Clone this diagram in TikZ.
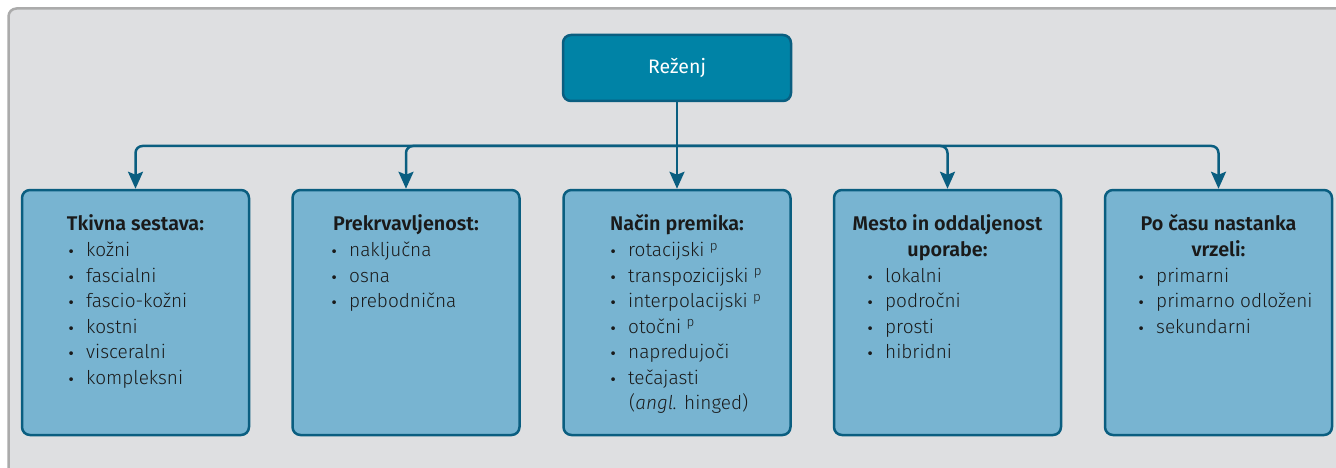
\documentclass[tikz,border=0pt]{standalone}
\usepackage{fontspec}
\setmainfont{Fira Sans Light}[BoldFont={Fira Sans SemiBold},ItalicFont={Fira Sans Light Italic}]
\newfontfamily\regfont{Fira Sans}
\newfontfamily\bulfont{DejaVu Sans}
\usetikzlibrary{arrows.meta}
\definecolor{bgc}{HTML}{DEDFE1}
\definecolor{framec}{HTML}{ABABAB}
\definecolor{topc}{HTML}{0083A6}
\definecolor{boxc}{HTML}{78B4D1}
\definecolor{linec}{HTML}{0A5E80}
\definecolor{txtc}{HTML}{1A1A1A}
\begin{document}
\begin{tikzpicture}[x=1pt,y=-1pt,
  topbox/.style={draw=linec,fill=topc,line width=2.5pt,rounded corners=8pt,minimum width=228pt,minimum height=66pt,inner sep=0pt,text=white,font=\regfont\fontsize{19.5}{22}\selectfont},
  catbox/.style={draw=linec,fill=boxc,line width=2.5pt,rounded corners=8pt,minimum width=227pt,minimum height=245pt,inner sep=0pt},
  ttl/.style={anchor=base,inner sep=0pt,text=txtc,font=\fontsize{19.8}{23}\selectfont\bfseries},
  itm/.style={anchor=base west,inner sep=0pt,text=txtc,font=\fontsize{19}{23}\selectfont},
  conn/.style={draw=linec,line width=2.5pt,rounded corners=7pt,-{Stealth[length=17pt,width=15pt,inset=3pt]}}
]
\useasboundingbox (0,0) rectangle (1336,468);
\draw[framec,fill=bgc,line width=2.5pt,rounded corners=8pt] (8.5,8.5) rectangle (1360,490);

\node[topbox] (top) at (677,68) {Reženj};
\node[catbox] (b1) at (135.5,312.5) {};
\node[catbox] (b2) at (406,312.5) {};
\node[catbox] (b3) at (677,312.5) {};
\node[catbox] (b4) at (947.5,312.5) {};
\node[catbox] (b5) at (1218.5,312.5) {};

\coordinate (bus) at (677,146);
\draw[linec,line width=2.5pt] (top.south) -- (bus);
\foreach \b in {b1,b2,b3,b4,b5} \draw[conn] (bus) -| (\b.north);

\newcommand{\bl}{\llap{\makebox[30pt][c]{\bulfont\fontsize{13}{13}\selectfont •}}}
% titles
\node[ttl] (t1) at (135.5,230.7) {Tkivna sestava:};
\node[ttl] (t2) at (406,230.7) {Prekrvavljenost:};
\node[ttl] (t3) at (677,230.7) {Način premika:};
\node[ttl] (t4a) at (947.5,230.7) {Mesto in oddaljenost};
\node[ttl] (t4b) at (947.5,256.2) {uporabe:};
\node[ttl] (t5a) at (1218.5,230.7) {Po času nastanka};
\node[ttl] (t5b) at (1218.5,256.2) {vrzeli:};
% items
\foreach \t [count=\i from 0] in {kožni,fascialni,fascio-kožni,kostni,visceralni,kompleksni}
  \node[itm] (i1-\i) at (86,256.7+25.5*\i) {\bl\t};
\foreach \t [count=\i from 0] in {naključna,osna,prebodnična}
  \node[itm] (i2-\i) at (349,256.7+25.5*\i) {\bl\t};
\foreach \t [count=\i from 0] in {rotacijski \textsuperscript{p},transpozicijski \textsuperscript{p},interpolacijski \textsuperscript{p},otočni \textsuperscript{p},napredujoči,tečajasti}
  \node[itm] (i3-\i) at (628,256.7+25.5*\i) {\bl\t};
\node[itm] (i3-6) at (629,409.7) {(\textit{angl.} hinged)};
\foreach \t [count=\i from 0] in {lokalni,področni,prosti,hibridni}
  \node[itm] (i4-\i) at (885,282.2+25.5*\i) {\bl\t};
\foreach \t [count=\i from 0] in {primarni,primarno odloženi,sekundarni}
  \node[itm] (i5-\i) at (1156,282.2+25.5*\i) {\bl\t};
\end{tikzpicture}
\end{document}
